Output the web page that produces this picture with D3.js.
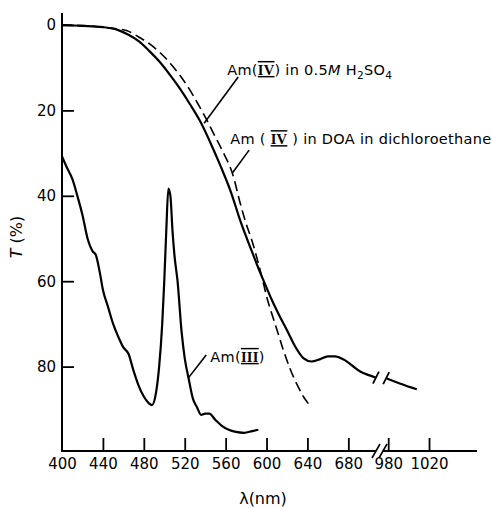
<!DOCTYPE html>
<html lang="en">
<head>
<meta charset="UTF-8">
<title>Am absorption spectra</title>
<script src="https://d3js.org/d3.v7.min.js"></script>
<style>
  body { margin: 0; background: #fff; }
  text { font-family: "DejaVu Sans", sans-serif; fill: #000; }
  .axis text { font-size: 15px; }
  .axis line { stroke: #000; stroke-width: 1.8; }
  .note { font-size: 14.5px; letter-spacing: 0.3px; }
  .rn { font-family: "Liberation Serif", serif; font-weight: bold; text-decoration: underline overline; }
</style>
</head>
<body>
<svg width="492" height="508"></svg>
<script>
// wavelength (nm), transmittance T (%)
const xTicks = [400, 440, 480, 520, 560, 600, 640, 680, 980, 1020];
const yTicks = [0, 20, 40, 60, 80];

// Am(IV) in 0.5M H2SO4, visible part and part beyond the axis break
const amIVacid = [[400,0],[420,0.2],[440,0.5],[455,1.2],[465,2.3],[475,3.8],[485,6],[495,8.5],[505,11.5],
  [515,14.8],[525,18.5],[535,22.5],[545,27.5],[555,33],[565,39],[575,46.3],[585,52.6],[595,58.7],[600,61.5],
  [605,64.3],[612,67.8],[620,71.5],[628,75.3],[636,78],[644,78.8],[652,78.3],[660,77.6],[667,77.6],[675,78.3],
  [684,79.8],[692,81.2],[700,82],[707,82.6]];
const amIVacidFar = [[978,82.7],[992,84],[1008,85.3]];

// Am(IV) in DOA in dichloroethane (dashed)
const amIVdoa = [[400,0],[430,0.3],[450,0.8],[463,1.3],[475,2.8],[486,4.5],[496,6.5],[506,9],[516,12],[525,15.2],
  [533,18.5],[540,21.5],[548,25.3],[558,30],[567,35],[574,41.5],[580,46.5],[586,50.7],[592,55.8],[596,59.5],
  [600,63.5],[605,67.5],[611,72],[617,76.5],[623,80.5],[630,84.3],[636,87],[642,89]];

// Am(III)
const amIII = [[400,30.8],[405,33.5],[410,36],[415,40],[420,44.5],[425,50],[430,53],[433,53.8],[437,58],[440,62],
  [445,66],[450,70],[455,73],[460,75.5],[465,77],[470,81],[475,84.5],[480,87],[485,88.6],[488,89],[492,86],
  [495,80],[498,70],[500,60],[502,48],[504,38.3],[506,40],[508,48],[510,54],[513,60],[517,72],[520,78],[524,83],
  [528,87.5],[532,89.5],[536,91.3],[540,91],[544,91],[550,92.5],[556,93.8],[563,94.8],[570,95.3],[578,95.5],
  [586,95.1],[592,94.8]];

const svg = d3.select("svg");

// broken axis: 709..970 nm collapses to one point
const x = d3.scaleLinear().domain([400, 709, 970, 1067]).range([62, 378, 378, 477]);
const y = d3.scaleLinear().domain([0, 100]).range([25, 452]);
const xAxisY = 451;

const line = d3.line().x(d => x(d[0])).y(d => y(d[1])).curve(d3.curveMonotoneX);

// axes
const xa = svg.append("g").attr("class", "axis").attr("transform", `translate(0,${xAxisY})`)
  .call(d3.axisBottom(x).tickValues(xTicks).tickFormat(d3.format("d"))
    .tickSize(-13).tickSizeOuter(0).tickPadding(7));
xa.select(".domain").remove();
xa.selectAll(".tick").filter(d => d === 400).select("line").remove();

const ya = svg.append("g").attr("class", "axis").attr("transform", "translate(62,0)")
  .call(d3.axisLeft(y).tickValues(yTicks).tickSize(-12).tickSizeOuter(0).tickPadding(6));
ya.select(".domain").remove();

const bx = x(709);
svg.append("path")
  .attr("d", `M62,13V${xAxisY}H${bx - 2}M${bx + 5},${xAxisY}H477`)
  .attr("fill", "none").attr("stroke", "#000").attr("stroke-width", 2);
[bx - 2, bx + 5].forEach(cx => {
  svg.append("line")
    .attr("x1", cx - 4).attr("y1", xAxisY + 7).attr("x2", cx + 4).attr("y2", xAxisY - 7)
    .attr("stroke", "#000").attr("stroke-width", 1.6);
});

// curves
const curves = svg.append("g").attr("fill", "none").attr("stroke", "#000");
curves.append("path").attr("d", line(amIVdoa)).attr("stroke-width", 1.6).attr("stroke-dasharray", "10,5");
curves.append("path").attr("d", line(amIVacid)).attr("stroke-width", 2.2);
curves.append("path").attr("d", line(amIVacidFar)).attr("stroke-width", 2.2);
curves.append("path").attr("d", line(amIII)).attr("stroke-width", 2.2);

// break marks on the Am(IV) curve
[amIVacid[amIVacid.length - 1], amIVacidFar[0]].forEach(p => {
  const cx = x(p[0]), cy = y(p[1]);
  svg.append("line")
    .attr("x1", cx - 3).attr("y1", cy + 6).attr("x2", cx + 3).attr("y2", cy - 6)
    .attr("stroke", "#000").attr("stroke-width", 1.8);
});

// annotations: leader lines in data units
const leaders = [
  [[572.3, 12.2], [539, 23]],
  [[583, 29.3], [566.4, 34.7]],
  [[541, 77.3], [523.4, 82.7]]
];
leaders.forEach(l => {
  svg.append("line")
    .attr("x1", x(l[0][0])).attr("y1", y(l[0][1]))
    .attr("x2", x(l[1][0])).attr("y2", y(l[1][1]))
    .attr("stroke", "#000").attr("stroke-width", 1.6);
});

const t1 = svg.append("text").attr("class", "note").attr("x", x(561.5)).attr("y", y(11.7));
t1.append("tspan").text("Am(");
t1.append("tspan").attr("class", "rn").text("IV");
t1.append("tspan").text(") in 0.5");
t1.append("tspan").attr("font-style", "italic").text("M");
t1.append("tspan").text(" H");
t1.append("tspan").attr("dy", 4).attr("font-size", 10.5).text("2");
t1.append("tspan").attr("dy", -4).text("SO");
t1.append("tspan").attr("dy", 4).attr("font-size", 10.5).text("4");

const t2 = svg.append("text").attr("class", "note").attr("x", x(564.5)).attr("y", y(27.9));
t2.append("tspan").text("Am ( ");
t2.append("tspan").attr("class", "rn").text("IV");
t2.append("tspan").text(" ) in DOA in dichloroethane");

const t3 = svg.append("text").attr("class", "note").attr("x", x(545)).attr("y", y(78.9));
t3.append("tspan").text("Am(");
t3.append("tspan").attr("class", "rn").text("III");
t3.append("tspan").text(")");

// axis titles
svg.append("text").attr("x", 263).attr("y", 504).attr("text-anchor", "middle")
  .attr("font-size", 16).text("λ(nm)");
const yt = svg.append("text").attr("transform", "translate(22,237) rotate(-90)")
  .attr("text-anchor", "middle").attr("font-size", 16);
yt.append("tspan").attr("font-style", "italic").text("T");
yt.append("tspan").text(" (%)");
</script>
</body>
</html>
